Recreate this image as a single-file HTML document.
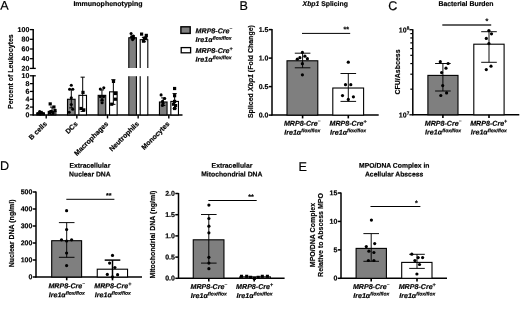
<!DOCTYPE html>
<html><head><meta charset="utf-8"><title>Figure</title>
<style>
html,body{margin:0;padding:0;background:#fff;}
body{width:520px;height:316px;overflow:hidden;font-family:"Liberation Sans",sans-serif;}
svg{display:block;will-change:transform;}
svg text{font-family:"Liberation Sans",sans-serif;fill:#000;stroke:#000;stroke-width:0.18px;}
</style></head><body>
<svg width="520" height="316" viewBox="0 0 520 316">
<rect x="0" y="0" width="520" height="316" fill="#fff"/>
<text x="0.30" y="9.70" transform="rotate(0.03 0.30 9.70)" font-size="12.6" text-anchor="start" font-weight="normal" font-style="normal" stroke-width="0.08">A</text>
<text x="239.60" y="10.00" transform="rotate(0.03 239.60 10.00)" font-size="12.6" text-anchor="start" font-weight="normal" font-style="normal" stroke-width="0.08">B</text>
<text x="388.20" y="10.10" transform="rotate(0.03 388.20 10.10)" font-size="12.6" text-anchor="start" font-weight="normal" font-style="normal" stroke-width="0.08">C</text>
<text x="0.00" y="170.00" transform="rotate(0.03 0.00 170.00)" font-size="12.6" text-anchor="start" font-weight="normal" font-style="normal" stroke-width="0.08">D</text>
<text x="298.50" y="171.00" transform="rotate(0.03 298.50 171.00)" font-size="12.6" text-anchor="start" font-weight="normal" font-style="normal" stroke-width="0.08">E</text>
<text x="108.00" y="6.00" transform="rotate(0.03 108.00 6.00)" font-size="7.0" text-anchor="middle" font-weight="bold" font-style="normal" >Immunophenotyping</text>
<text transform="translate(13.30,71.60) rotate(-90)" font-size="7.0" text-anchor="middle" font-weight="bold">Percent of Leukocytes</text>
<line x1="33.20" y1="29.10" x2="33.20" y2="68.90" stroke="#000" stroke-width="1.5"/>
<line x1="33.20" y1="75.30" x2="33.20" y2="115.40" stroke="#000" stroke-width="1.5"/>
<line x1="32.70" y1="114.90" x2="182.50" y2="114.90" stroke="#000" stroke-width="1.5"/>
<line x1="29.90" y1="29.60" x2="33.20" y2="29.60" stroke="#000" stroke-width="1.3"/>
<text x="29.30" y="31.90" transform="rotate(0.03 29.30 31.90)" font-size="7.0" text-anchor="end" font-weight="bold" font-style="normal" >100</text>
<line x1="29.90" y1="39.30" x2="33.20" y2="39.30" stroke="#000" stroke-width="1.3"/>
<text x="29.30" y="41.60" transform="rotate(0.03 29.30 41.60)" font-size="7.0" text-anchor="end" font-weight="bold" font-style="normal" >80</text>
<line x1="29.90" y1="49.00" x2="33.20" y2="49.00" stroke="#000" stroke-width="1.3"/>
<text x="29.30" y="51.30" transform="rotate(0.03 29.30 51.30)" font-size="7.0" text-anchor="end" font-weight="bold" font-style="normal" >60</text>
<line x1="29.90" y1="58.70" x2="33.20" y2="58.70" stroke="#000" stroke-width="1.3"/>
<text x="29.30" y="61.00" transform="rotate(0.03 29.30 61.00)" font-size="7.0" text-anchor="end" font-weight="bold" font-style="normal" >40</text>
<line x1="29.90" y1="68.40" x2="35.80" y2="68.40" stroke="#000" stroke-width="1.3"/>
<text x="29.30" y="70.70" transform="rotate(0.03 29.30 70.70)" font-size="7.0" text-anchor="end" font-weight="bold" font-style="normal" >20</text>
<line x1="29.90" y1="75.80" x2="35.80" y2="75.80" stroke="#000" stroke-width="1.3"/>
<text x="29.30" y="78.10" transform="rotate(0.03 29.30 78.10)" font-size="7.0" text-anchor="end" font-weight="bold" font-style="normal" >10</text>
<line x1="29.90" y1="83.62" x2="33.20" y2="83.62" stroke="#000" stroke-width="1.3"/>
<text x="29.30" y="85.92" transform="rotate(0.03 29.30 85.92)" font-size="7.0" text-anchor="end" font-weight="bold" font-style="normal" >8</text>
<line x1="29.90" y1="91.44" x2="33.20" y2="91.44" stroke="#000" stroke-width="1.3"/>
<text x="29.30" y="93.74" transform="rotate(0.03 29.30 93.74)" font-size="7.0" text-anchor="end" font-weight="bold" font-style="normal" >6</text>
<line x1="29.90" y1="99.26" x2="33.20" y2="99.26" stroke="#000" stroke-width="1.3"/>
<text x="29.30" y="101.56" transform="rotate(0.03 29.30 101.56)" font-size="7.0" text-anchor="end" font-weight="bold" font-style="normal" >4</text>
<line x1="29.90" y1="107.08" x2="33.20" y2="107.08" stroke="#000" stroke-width="1.3"/>
<text x="29.30" y="109.38" transform="rotate(0.03 29.30 109.38)" font-size="7.0" text-anchor="end" font-weight="bold" font-style="normal" >2</text>
<line x1="29.90" y1="114.90" x2="33.20" y2="114.90" stroke="#000" stroke-width="1.3"/>
<text x="29.30" y="117.20" transform="rotate(0.03 29.30 117.20)" font-size="7.0" text-anchor="end" font-weight="bold" font-style="normal" >0</text>
<line x1="46.20" y1="114.90" x2="46.20" y2="118.40" stroke="#000" stroke-width="1.4"/>
<rect x="36.85" y="112.95" width="7.60" height="1.95" fill="#7f7f7f" stroke="#000" stroke-width="1.1"/>
<line x1="40.65" y1="111.38" x2="40.65" y2="114.12" stroke="#000" stroke-width="1.0"/>
<line x1="38.55" y1="111.38" x2="42.75" y2="111.38" stroke="#000" stroke-width="1.0"/>
<line x1="38.55" y1="114.12" x2="42.75" y2="114.12" stroke="#000" stroke-width="1.0"/>
<rect x="48.25" y="111.38" width="7.60" height="3.52" fill="#fff" stroke="#000" stroke-width="1.1"/>
<line x1="52.05" y1="107.08" x2="52.05" y2="114.51" stroke="#000" stroke-width="1.0"/>
<line x1="49.95" y1="107.08" x2="54.15" y2="107.08" stroke="#000" stroke-width="1.0"/>
<line x1="49.95" y1="114.51" x2="54.15" y2="114.51" stroke="#000" stroke-width="1.0"/>
<text transform="translate(47.50,124.30) rotate(-45)" font-size="7.0" text-anchor="end" font-weight="bold">B cells</text>
<line x1="76.85" y1="114.90" x2="76.85" y2="118.40" stroke="#000" stroke-width="1.4"/>
<rect x="67.50" y="99.26" width="7.60" height="15.64" fill="#7f7f7f" stroke="#000" stroke-width="1.1"/>
<line x1="71.30" y1="89.29" x2="71.30" y2="107.86" stroke="#000" stroke-width="1.0"/>
<line x1="69.20" y1="89.29" x2="73.40" y2="89.29" stroke="#000" stroke-width="1.0"/>
<line x1="69.20" y1="107.86" x2="73.40" y2="107.86" stroke="#000" stroke-width="1.0"/>
<rect x="78.90" y="95.35" width="7.60" height="19.55" fill="#fff" stroke="#000" stroke-width="1.1"/>
<line x1="82.70" y1="77.17" x2="82.70" y2="111.38" stroke="#000" stroke-width="1.0"/>
<line x1="80.60" y1="77.17" x2="84.80" y2="77.17" stroke="#000" stroke-width="1.0"/>
<line x1="80.60" y1="111.38" x2="84.80" y2="111.38" stroke="#000" stroke-width="1.0"/>
<text transform="translate(78.15,124.30) rotate(-45)" font-size="7.0" text-anchor="end" font-weight="bold">DCs</text>
<line x1="107.50" y1="114.90" x2="107.50" y2="118.40" stroke="#000" stroke-width="1.4"/>
<rect x="98.15" y="95.35" width="7.60" height="19.55" fill="#7f7f7f" stroke="#000" stroke-width="1.1"/>
<line x1="101.95" y1="89.88" x2="101.95" y2="100.82" stroke="#000" stroke-width="1.0"/>
<line x1="99.85" y1="89.88" x2="104.05" y2="89.88" stroke="#000" stroke-width="1.0"/>
<line x1="99.85" y1="100.82" x2="104.05" y2="100.82" stroke="#000" stroke-width="1.0"/>
<rect x="109.55" y="91.83" width="7.60" height="23.07" fill="#fff" stroke="#000" stroke-width="1.1"/>
<line x1="113.35" y1="79.71" x2="113.35" y2="104.34" stroke="#000" stroke-width="1.0"/>
<line x1="111.25" y1="79.71" x2="115.45" y2="79.71" stroke="#000" stroke-width="1.0"/>
<line x1="111.25" y1="104.34" x2="115.45" y2="104.34" stroke="#000" stroke-width="1.0"/>
<text transform="translate(108.80,124.30) rotate(-45)" font-size="7.0" text-anchor="end" font-weight="bold">Macrophages</text>
<line x1="138.15" y1="114.90" x2="138.15" y2="118.40" stroke="#000" stroke-width="1.4"/>
<rect x="128.80" y="37.75" width="7.60" height="32.65" fill="#7f7f7f" stroke="#000" stroke-width="1.1"/>
<rect x="127.20" y="68.0" width="10.80" height="5" fill="#fff"/>
<rect x="128.80" y="73.80" width="7.60" height="41.10" fill="#7f7f7f" stroke="#000" stroke-width="1.1"/>
<rect x="127.20" y="68.0" width="10.80" height="8.2" fill="#fff"/>
<line x1="132.60" y1="35.91" x2="132.60" y2="38.82" stroke="#000" stroke-width="1.0"/>
<line x1="130.50" y1="35.91" x2="134.70" y2="35.91" stroke="#000" stroke-width="1.0"/>
<line x1="130.50" y1="38.82" x2="134.70" y2="38.82" stroke="#000" stroke-width="1.0"/>
<rect x="140.20" y="39.69" width="7.60" height="30.71" fill="#fff" stroke="#000" stroke-width="1.1"/>
<rect x="138.60" y="68.0" width="10.80" height="5" fill="#fff"/>
<rect x="140.20" y="73.80" width="7.60" height="41.10" fill="#fff" stroke="#000" stroke-width="1.1"/>
<rect x="138.60" y="68.0" width="10.80" height="8.2" fill="#fff"/>
<line x1="144.00" y1="37.36" x2="144.00" y2="41.73" stroke="#000" stroke-width="1.0"/>
<line x1="141.90" y1="37.36" x2="146.10" y2="37.36" stroke="#000" stroke-width="1.0"/>
<line x1="141.90" y1="41.73" x2="146.10" y2="41.73" stroke="#000" stroke-width="1.0"/>
<text transform="translate(139.45,124.30) rotate(-45)" font-size="7.0" text-anchor="end" font-weight="bold">Neutrophils</text>
<line x1="168.80" y1="114.90" x2="168.80" y2="118.40" stroke="#000" stroke-width="1.4"/>
<rect x="159.45" y="102.00" width="7.60" height="12.90" fill="#7f7f7f" stroke="#000" stroke-width="1.1"/>
<line x1="163.25" y1="97.89" x2="163.25" y2="105.52" stroke="#000" stroke-width="1.0"/>
<line x1="161.15" y1="97.89" x2="165.35" y2="97.89" stroke="#000" stroke-width="1.0"/>
<line x1="161.15" y1="105.52" x2="165.35" y2="105.52" stroke="#000" stroke-width="1.0"/>
<rect x="170.85" y="101.41" width="7.60" height="13.49" fill="#fff" stroke="#000" stroke-width="1.1"/>
<line x1="174.65" y1="93.59" x2="174.65" y2="108.64" stroke="#000" stroke-width="1.0"/>
<line x1="172.55" y1="93.59" x2="176.75" y2="93.59" stroke="#000" stroke-width="1.0"/>
<line x1="172.55" y1="108.64" x2="176.75" y2="108.64" stroke="#000" stroke-width="1.0"/>
<text transform="translate(170.10,124.30) rotate(-45)" font-size="7.0" text-anchor="end" font-weight="bold">Monocytes</text>
<circle cx="38.00" cy="113.60" r="1.55" fill="#000"/>
<circle cx="39.70" cy="111.60" r="1.55" fill="#000"/>
<circle cx="41.60" cy="112.80" r="1.55" fill="#000"/>
<circle cx="43.40" cy="113.80" r="1.55" fill="#000"/>
<circle cx="40.20" cy="114.00" r="1.55" fill="#000"/>
<circle cx="71.30" cy="85.30" r="1.55" fill="#000"/>
<circle cx="69.60" cy="89.20" r="1.55" fill="#000"/>
<circle cx="72.80" cy="89.20" r="1.55" fill="#000"/>
<circle cx="71.30" cy="97.80" r="1.55" fill="#000"/>
<circle cx="71.30" cy="104.50" r="1.55" fill="#000"/>
<circle cx="72.70" cy="109.20" r="1.55" fill="#000"/>
<circle cx="69.20" cy="112.30" r="1.55" fill="#000"/>
<circle cx="100.30" cy="89.00" r="1.55" fill="#000"/>
<circle cx="103.80" cy="87.80" r="1.55" fill="#000"/>
<circle cx="100.20" cy="96.60" r="1.55" fill="#000"/>
<circle cx="103.60" cy="96.60" r="1.55" fill="#000"/>
<circle cx="102.10" cy="99.80" r="1.55" fill="#000"/>
<circle cx="102.10" cy="102.80" r="1.55" fill="#000"/>
<circle cx="131.10" cy="33.50" r="1.55" fill="#000"/>
<circle cx="133.40" cy="36.00" r="1.55" fill="#000"/>
<circle cx="133.90" cy="38.00" r="1.55" fill="#000"/>
<circle cx="131.60" cy="37.00" r="1.55" fill="#000"/>
<circle cx="132.60" cy="39.60" r="1.55" fill="#000"/>
<circle cx="161.10" cy="94.90" r="1.55" fill="#000"/>
<circle cx="164.70" cy="98.50" r="1.55" fill="#000"/>
<circle cx="162.50" cy="101.40" r="1.55" fill="#000"/>
<circle cx="163.10" cy="103.60" r="1.55" fill="#000"/>
<circle cx="162.40" cy="105.40" r="1.55" fill="#000"/>
<rect x="48.60" y="102.30" width="3.2" height="3.2" fill="#000"/>
<rect x="52.30" y="105.40" width="3.2" height="3.2" fill="#000"/>
<rect x="53.40" y="108.90" width="3.2" height="3.2" fill="#000"/>
<rect x="49.40" y="110.00" width="3.2" height="3.2" fill="#000"/>
<rect x="48.00" y="111.40" width="3.2" height="3.2" fill="#000"/>
<rect x="51.60" y="111.60" width="3.2" height="3.2" fill="#000"/>
<rect x="81.40" y="90.80" width="3.2" height="3.2" fill="#000"/>
<rect x="79.40" y="106.90" width="3.2" height="3.2" fill="#000"/>
<rect x="82.20" y="108.30" width="3.2" height="3.2" fill="#000"/>
<rect x="111.90" y="79.80" width="3.2" height="3.2" fill="#000"/>
<rect x="113.80" y="91.90" width="3.2" height="3.2" fill="#000"/>
<rect x="113.80" y="97.60" width="3.2" height="3.2" fill="#000"/>
<rect x="110.10" y="102.60" width="3.2" height="3.2" fill="#000"/>
<rect x="140.00" y="32.50" width="3.2" height="3.2" fill="#000"/>
<rect x="144.70" y="33.80" width="3.2" height="3.2" fill="#000"/>
<rect x="142.80" y="36.70" width="3.2" height="3.2" fill="#000"/>
<rect x="141.90" y="39.50" width="3.2" height="3.2" fill="#000"/>
<rect x="144.20" y="36.40" width="3.2" height="3.2" fill="#000"/>
<rect x="173.00" y="86.90" width="3.2" height="3.2" fill="#000"/>
<rect x="173.00" y="94.10" width="3.2" height="3.2" fill="#000"/>
<rect x="173.00" y="99.80" width="3.2" height="3.2" fill="#000"/>
<rect x="171.90" y="102.60" width="3.2" height="3.2" fill="#000"/>
<rect x="174.00" y="104.00" width="3.2" height="3.2" fill="#000"/>
<rect x="173.00" y="106.90" width="3.2" height="3.2" fill="#000"/>
<rect x="180.90" y="26.80" width="9.30" height="6.60" fill="#7f7f7f" stroke="#000" stroke-width="1.4"/>
<rect x="181.20" y="47.60" width="9.40" height="5.20" fill="#fff" stroke="#000" stroke-width="1.3"/>
<text x="195.60" y="33.20" transform="rotate(0.03 195.60 33.20)" font-size="7.1" text-anchor="start" font-weight="bold" font-style="italic">MRP8-Cre<tspan font-size="4.6" dy="-3.3">−</tspan></text>
<text x="195.60" y="42.10" transform="rotate(0.03 195.60 42.10)" font-size="7.1" text-anchor="start" font-weight="bold" font-style="italic">Ire1α<tspan font-size="4.95" dy="-2.4">flox/flox</tspan></text>
<text x="195.60" y="53.00" transform="rotate(0.03 195.60 53.00)" font-size="7.1" text-anchor="start" font-weight="bold" font-style="italic">MRP8-Cre<tspan font-size="5.3" dy="-2.6">+</tspan></text>
<text x="195.60" y="61.70" transform="rotate(0.03 195.60 61.70)" font-size="7.1" text-anchor="start" font-weight="bold" font-style="italic">Ire1α<tspan font-size="4.95" dy="-2.4">flox/flox</tspan></text>
<text x="325.2" y="6.0" transform="rotate(0.03 325.2 6.0)" font-size="6.85" text-anchor="middle" font-weight="bold"><tspan font-style="italic">Xbp1</tspan> Splicing</text>
<text transform="translate(253.4,71.6) rotate(-90)" font-size="7.0" text-anchor="middle" font-weight="bold">Spliced <tspan font-style="italic">Xbp1</tspan> (Fold Change)</text>
<line x1="272.00" y1="29.10" x2="272.00" y2="115.60" stroke="#000" stroke-width="1.5"/>
<line x1="271.50" y1="115.10" x2="378.70" y2="115.10" stroke="#000" stroke-width="1.5"/>
<line x1="268.80" y1="115.10" x2="272.00" y2="115.10" stroke="#000" stroke-width="1.5"/>
<text x="268.40" y="117.40" transform="rotate(0.03 268.40 117.40)" font-size="7.0" text-anchor="end" font-weight="bold" font-style="normal" >0.0</text>
<line x1="268.80" y1="86.60" x2="272.00" y2="86.60" stroke="#000" stroke-width="1.5"/>
<text x="268.40" y="88.90" transform="rotate(0.03 268.40 88.90)" font-size="7.0" text-anchor="end" font-weight="bold" font-style="normal" >0.5</text>
<line x1="268.80" y1="58.10" x2="272.00" y2="58.10" stroke="#000" stroke-width="1.5"/>
<text x="268.40" y="60.40" transform="rotate(0.03 268.40 60.40)" font-size="7.0" text-anchor="end" font-weight="bold" font-style="normal" >1.0</text>
<line x1="268.80" y1="29.60" x2="272.00" y2="29.60" stroke="#000" stroke-width="1.5"/>
<text x="268.40" y="31.90" transform="rotate(0.03 268.40 31.90)" font-size="7.0" text-anchor="end" font-weight="bold" font-style="normal" >1.5</text>
<rect x="287.00" y="60.78" width="30.80" height="54.32" fill="#7f7f7f" stroke="#000" stroke-width="1.1"/>
<rect x="332.80" y="88.02" width="30.80" height="27.08" fill="#fff" stroke="#000" stroke-width="1.1"/>
<line x1="302.60" y1="53.20" x2="302.60" y2="67.80" stroke="#000" stroke-width="0.95"/>
<line x1="294.80" y1="53.20" x2="310.40" y2="53.20" stroke="#000" stroke-width="0.95"/>
<line x1="294.80" y1="67.80" x2="310.40" y2="67.80" stroke="#000" stroke-width="0.95"/>
<line x1="348.30" y1="73.50" x2="348.30" y2="101.40" stroke="#000" stroke-width="0.95"/>
<line x1="340.50" y1="73.50" x2="356.10" y2="73.50" stroke="#000" stroke-width="0.95"/>
<line x1="340.50" y1="101.40" x2="356.10" y2="101.40" stroke="#000" stroke-width="0.95"/>
<line x1="302.60" y1="115.10" x2="302.60" y2="118.40" stroke="#000" stroke-width="1.6"/>
<line x1="348.30" y1="115.10" x2="348.30" y2="118.40" stroke="#000" stroke-width="1.6"/>
<circle cx="302.40" cy="52.40" r="1.6" fill="#000"/>
<circle cx="297.30" cy="59.20" r="1.6" fill="#000"/>
<circle cx="299.90" cy="57.70" r="1.6" fill="#000"/>
<circle cx="304.90" cy="56.20" r="1.6" fill="#000"/>
<circle cx="307.40" cy="58.70" r="1.6" fill="#000"/>
<circle cx="302.40" cy="63.70" r="1.6" fill="#000"/>
<circle cx="302.40" cy="74.80" r="1.6" fill="#000"/>
<circle cx="348.30" cy="62.20" r="1.6" fill="#000"/>
<circle cx="345.50" cy="84.70" r="1.6" fill="#000"/>
<circle cx="350.80" cy="84.70" r="1.6" fill="#000"/>
<circle cx="342.50" cy="95.60" r="1.6" fill="#000"/>
<circle cx="353.40" cy="96.80" r="1.6" fill="#000"/>
<circle cx="348.30" cy="99.40" r="1.6" fill="#000"/>
<line x1="302.00" y1="33.40" x2="350.20" y2="33.40" stroke="#000" stroke-width="1.0"/>
<text x="346.20" y="31.80" transform="rotate(0.03 346.20 31.80)" font-size="7.2" text-anchor="middle" font-weight="bold" font-style="normal" >**</text>
<text x="302.20" y="125.80" transform="rotate(0.03 302.20 125.80)" font-size="7.1" text-anchor="middle" font-weight="bold" font-style="italic">MRP8-Cre<tspan font-size="4.6" dy="-3.3">−</tspan></text>
<text x="302.20" y="134.70" transform="rotate(0.03 302.20 134.70)" font-size="7.1" text-anchor="middle" font-weight="bold" font-style="italic">Ire1α<tspan font-size="4.95" dy="-2.4">flox/flox</tspan></text>
<text x="348.00" y="125.80" transform="rotate(0.03 348.00 125.80)" font-size="7.1" text-anchor="middle" font-weight="bold" font-style="italic">MRP8-Cre<tspan font-size="5.3" dy="-2.6">+</tspan></text>
<text x="348.00" y="134.70" transform="rotate(0.03 348.00 134.70)" font-size="7.1" text-anchor="middle" font-weight="bold" font-style="italic">Ire1α<tspan font-size="4.95" dy="-2.4">flox/flox</tspan></text>
<text x="466.00" y="6.00" transform="rotate(0.03 466.00 6.00)" font-size="6.9" text-anchor="middle" font-weight="bold" font-style="normal" >Bacterial Burden</text>
<text transform="translate(400.00,72.00) rotate(-90)" font-size="7.0" text-anchor="middle" font-weight="bold">CFU/Asbcess</text>
<line x1="412.80" y1="29.20" x2="412.80" y2="115.30" stroke="#000" stroke-width="1.5"/>
<line x1="412.30" y1="114.80" x2="519.30" y2="114.80" stroke="#000" stroke-width="1.5"/>
<line x1="409.40" y1="114.80" x2="412.80" y2="114.80" stroke="#000" stroke-width="1.3"/>
<line x1="410.30" y1="89.18" x2="412.80" y2="89.18" stroke="#000" stroke-width="1.2"/>
<line x1="410.30" y1="74.20" x2="412.80" y2="74.20" stroke="#000" stroke-width="1.2"/>
<line x1="410.30" y1="63.56" x2="412.80" y2="63.56" stroke="#000" stroke-width="1.2"/>
<line x1="410.30" y1="55.32" x2="412.80" y2="55.32" stroke="#000" stroke-width="1.2"/>
<line x1="410.30" y1="48.58" x2="412.80" y2="48.58" stroke="#000" stroke-width="1.2"/>
<line x1="410.30" y1="42.88" x2="412.80" y2="42.88" stroke="#000" stroke-width="1.2"/>
<line x1="410.30" y1="37.95" x2="412.80" y2="37.95" stroke="#000" stroke-width="1.2"/>
<line x1="410.30" y1="33.59" x2="412.80" y2="33.59" stroke="#000" stroke-width="1.2"/>
<line x1="409.40" y1="29.70" x2="412.80" y2="29.70" stroke="#000" stroke-width="1.3"/>
<text x="409.20" y="117.60" transform="rotate(0.03 409.20 117.60)" font-size="7.0" text-anchor="end" font-weight="bold">10<tspan font-size="4.6" dy="-2.9">7</tspan></text>
<text x="409.20" y="32.50" transform="rotate(0.03 409.20 32.50)" font-size="7.0" text-anchor="end" font-weight="bold">10<tspan font-size="4.6" dy="-2.9">8</tspan></text>
<rect x="427.90" y="75.40" width="30.10" height="39.40" fill="#7f7f7f" stroke="#000" stroke-width="1.1"/>
<rect x="473.80" y="44.20" width="30.30" height="70.60" fill="#fff" stroke="#000" stroke-width="1.1"/>
<line x1="442.90" y1="63.50" x2="442.90" y2="91.00" stroke="#000" stroke-width="0.95"/>
<line x1="435.10" y1="63.50" x2="450.70" y2="63.50" stroke="#000" stroke-width="0.95"/>
<line x1="435.10" y1="91.00" x2="450.70" y2="91.00" stroke="#000" stroke-width="0.95"/>
<line x1="489.00" y1="31.70" x2="489.00" y2="62.30" stroke="#000" stroke-width="0.95"/>
<line x1="481.20" y1="31.70" x2="496.80" y2="31.70" stroke="#000" stroke-width="0.95"/>
<line x1="481.20" y1="62.30" x2="496.80" y2="62.30" stroke="#000" stroke-width="0.95"/>
<line x1="442.90" y1="114.80" x2="442.90" y2="118.10" stroke="#000" stroke-width="1.6"/>
<line x1="489.00" y1="114.80" x2="489.00" y2="118.10" stroke="#000" stroke-width="1.6"/>
<circle cx="440.30" cy="61.70" r="1.6" fill="#000"/>
<circle cx="448.10" cy="63.50" r="1.6" fill="#000"/>
<circle cx="446.00" cy="68.20" r="1.6" fill="#000"/>
<circle cx="441.60" cy="72.60" r="1.6" fill="#000"/>
<circle cx="442.70" cy="85.60" r="1.6" fill="#000"/>
<circle cx="446.60" cy="92.90" r="1.6" fill="#000"/>
<circle cx="440.80" cy="95.50" r="1.6" fill="#000"/>
<circle cx="488.90" cy="30.60" r="1.6" fill="#000"/>
<circle cx="491.50" cy="33.80" r="1.6" fill="#000"/>
<circle cx="486.30" cy="38.40" r="1.6" fill="#000"/>
<circle cx="488.90" cy="43.60" r="1.6" fill="#000"/>
<circle cx="491.00" cy="66.20" r="1.6" fill="#000"/>
<circle cx="486.30" cy="69.60" r="1.6" fill="#000"/>
<line x1="442.30" y1="25.00" x2="491.20" y2="25.00" stroke="#626262" stroke-width="1.8"/>
<text x="487.00" y="23.50" transform="rotate(0.03 487.00 23.50)" font-size="7.2" text-anchor="middle" font-weight="bold" font-style="normal" >*</text>
<text x="443.10" y="125.70" transform="rotate(0.03 443.10 125.70)" font-size="7.1" text-anchor="middle" font-weight="bold" font-style="italic">MRP8-Cre<tspan font-size="4.6" dy="-3.3">−</tspan></text>
<text x="443.10" y="134.60" transform="rotate(0.03 443.10 134.60)" font-size="7.1" text-anchor="middle" font-weight="bold" font-style="italic">Ire1α<tspan font-size="4.95" dy="-2.4">flox/flox</tspan></text>
<text x="488.70" y="125.70" transform="rotate(0.03 488.70 125.70)" font-size="7.1" text-anchor="middle" font-weight="bold" font-style="italic">MRP8-Cre<tspan font-size="5.3" dy="-2.6">+</tspan></text>
<text x="488.70" y="134.60" transform="rotate(0.03 488.70 134.60)" font-size="7.1" text-anchor="middle" font-weight="bold" font-style="italic">Ire1α<tspan font-size="4.95" dy="-2.4">flox/flox</tspan></text>
<text x="89.90" y="167.70" transform="rotate(0.03 89.90 167.70)" font-size="6.8" text-anchor="middle" font-weight="bold" font-style="normal" >Extracellular</text>
<text x="89.90" y="176.40" transform="rotate(0.03 89.90 176.40)" font-size="6.8" text-anchor="middle" font-weight="bold" font-style="normal" >Nuclear DNA</text>
<text transform="translate(13.80,233.30) rotate(-90)" font-size="7.0" text-anchor="middle" font-weight="bold">Nuclear DNA (ng/ml)</text>
<line x1="36.00" y1="191.50" x2="36.00" y2="277.50" stroke="#000" stroke-width="1.5"/>
<line x1="35.50" y1="277.00" x2="142.00" y2="277.00" stroke="#000" stroke-width="1.5"/>
<line x1="32.80" y1="277.00" x2="36.00" y2="277.00" stroke="#000" stroke-width="1.5"/>
<text x="32.40" y="279.30" transform="rotate(0.03 32.40 279.30)" font-size="7.0" text-anchor="end" font-weight="bold" font-style="normal" >0</text>
<line x1="32.80" y1="260.00" x2="36.00" y2="260.00" stroke="#000" stroke-width="1.5"/>
<text x="32.40" y="262.30" transform="rotate(0.03 32.40 262.30)" font-size="7.0" text-anchor="end" font-weight="bold" font-style="normal" >100</text>
<line x1="32.80" y1="243.00" x2="36.00" y2="243.00" stroke="#000" stroke-width="1.5"/>
<text x="32.40" y="245.30" transform="rotate(0.03 32.40 245.30)" font-size="7.0" text-anchor="end" font-weight="bold" font-style="normal" >200</text>
<line x1="32.80" y1="226.00" x2="36.00" y2="226.00" stroke="#000" stroke-width="1.5"/>
<text x="32.40" y="228.30" transform="rotate(0.03 32.40 228.30)" font-size="7.0" text-anchor="end" font-weight="bold" font-style="normal" >300</text>
<line x1="32.80" y1="209.00" x2="36.00" y2="209.00" stroke="#000" stroke-width="1.5"/>
<text x="32.40" y="211.30" transform="rotate(0.03 32.40 211.30)" font-size="7.0" text-anchor="end" font-weight="bold" font-style="normal" >400</text>
<line x1="32.80" y1="192.00" x2="36.00" y2="192.00" stroke="#000" stroke-width="1.5"/>
<text x="32.40" y="194.30" transform="rotate(0.03 32.40 194.30)" font-size="7.0" text-anchor="end" font-weight="bold" font-style="normal" >500</text>
<rect x="51.70" y="240.70" width="29.90" height="36.30" fill="#7f7f7f" stroke="#000" stroke-width="1.1"/>
<rect x="97.25" y="269.20" width="30.30" height="7.80" fill="#fff" stroke="#000" stroke-width="1.1"/>
<line x1="66.70" y1="222.60" x2="66.70" y2="257.30" stroke="#000" stroke-width="0.95"/>
<line x1="58.90" y1="222.60" x2="74.50" y2="222.60" stroke="#000" stroke-width="0.95"/>
<line x1="58.90" y1="257.30" x2="74.50" y2="257.30" stroke="#000" stroke-width="0.95"/>
<line x1="112.50" y1="260.10" x2="112.50" y2="277.00" stroke="#000" stroke-width="1.5"/>
<line x1="104.70" y1="260.10" x2="120.30" y2="260.10" stroke="#000" stroke-width="1.5"/>
<line x1="66.70" y1="277.00" x2="66.70" y2="280.30" stroke="#000" stroke-width="1.6"/>
<line x1="112.50" y1="277.00" x2="112.50" y2="280.30" stroke="#000" stroke-width="1.6"/>
<circle cx="66.60" cy="210.70" r="1.6" fill="#000"/>
<circle cx="66.60" cy="229.50" r="1.6" fill="#000"/>
<circle cx="61.50" cy="239.80" r="1.6" fill="#000"/>
<circle cx="66.60" cy="241.00" r="1.6" fill="#000"/>
<circle cx="71.60" cy="239.80" r="1.6" fill="#000"/>
<circle cx="66.60" cy="253.00" r="1.6" fill="#000"/>
<circle cx="66.60" cy="265.60" r="1.6" fill="#000"/>
<circle cx="112.50" cy="255.40" r="1.6" fill="#000"/>
<circle cx="109.60" cy="263.10" r="1.6" fill="#000"/>
<circle cx="114.90" cy="267.50" r="1.6" fill="#000"/>
<circle cx="107.30" cy="274.40" r="1.6" fill="#000"/>
<circle cx="117.60" cy="274.70" r="1.6" fill="#000"/>
<circle cx="112.50" cy="276.90" r="1.6" fill="#000"/>
<line x1="66.30" y1="199.30" x2="114.40" y2="199.30" stroke="#000" stroke-width="1.0"/>
<text x="108.80" y="198.00" transform="rotate(0.03 108.80 198.00)" font-size="7.2" text-anchor="middle" font-weight="bold" font-style="normal" >**</text>
<text x="66.70" y="288.30" transform="rotate(0.03 66.70 288.30)" font-size="7.1" text-anchor="middle" font-weight="bold" font-style="italic">MRP8-Cre<tspan font-size="4.6" dy="-3.3">−</tspan></text>
<text x="66.70" y="297.20" transform="rotate(0.03 66.70 297.20)" font-size="7.1" text-anchor="middle" font-weight="bold" font-style="italic">Ire1α<tspan font-size="4.95" dy="-2.4">flox/flox</tspan></text>
<text x="112.80" y="288.30" transform="rotate(0.03 112.80 288.30)" font-size="7.1" text-anchor="middle" font-weight="bold" font-style="italic">MRP8-Cre<tspan font-size="5.3" dy="-2.6">+</tspan></text>
<text x="112.80" y="297.20" transform="rotate(0.03 112.80 297.20)" font-size="7.1" text-anchor="middle" font-weight="bold" font-style="italic">Ire1α<tspan font-size="4.95" dy="-2.4">flox/flox</tspan></text>
<text x="232.00" y="167.70" transform="rotate(0.03 232.00 167.70)" font-size="6.8" text-anchor="middle" font-weight="bold" font-style="normal" >Extracellular</text>
<text x="231.80" y="176.40" transform="rotate(0.03 231.80 176.40)" font-size="6.8" text-anchor="middle" font-weight="bold" font-style="normal" >Mitochondrial DNA</text>
<text transform="translate(155.00,234.60) rotate(-90)" font-size="7.0" text-anchor="middle" font-weight="bold">Mitochondrial DNA (ng/ml)</text>
<line x1="178.50" y1="193.00" x2="178.50" y2="278.80" stroke="#000" stroke-width="1.5"/>
<line x1="178.00" y1="278.30" x2="284.60" y2="278.30" stroke="#000" stroke-width="1.5"/>
<line x1="175.30" y1="278.30" x2="178.50" y2="278.30" stroke="#000" stroke-width="1.5"/>
<text x="174.90" y="280.60" transform="rotate(0.03 174.90 280.60)" font-size="7.0" text-anchor="end" font-weight="bold" font-style="normal" >0.0</text>
<line x1="175.30" y1="257.10" x2="178.50" y2="257.10" stroke="#000" stroke-width="1.5"/>
<text x="174.90" y="259.40" transform="rotate(0.03 174.90 259.40)" font-size="7.0" text-anchor="end" font-weight="bold" font-style="normal" >0.5</text>
<line x1="175.30" y1="235.90" x2="178.50" y2="235.90" stroke="#000" stroke-width="1.5"/>
<text x="174.90" y="238.20" transform="rotate(0.03 174.90 238.20)" font-size="7.0" text-anchor="end" font-weight="bold" font-style="normal" >1.0</text>
<line x1="175.30" y1="214.70" x2="178.50" y2="214.70" stroke="#000" stroke-width="1.5"/>
<text x="174.90" y="217.00" transform="rotate(0.03 174.90 217.00)" font-size="7.0" text-anchor="end" font-weight="bold" font-style="normal" >1.5</text>
<line x1="175.30" y1="193.50" x2="178.50" y2="193.50" stroke="#000" stroke-width="1.5"/>
<text x="174.90" y="195.80" transform="rotate(0.03 174.90 195.80)" font-size="7.0" text-anchor="end" font-weight="bold" font-style="normal" >2.0</text>
<rect x="193.25" y="239.80" width="30.70" height="38.50" fill="#7f7f7f" stroke="#000" stroke-width="1.1"/>
<line x1="208.80" y1="214.50" x2="208.80" y2="263.10" stroke="#000" stroke-width="0.95"/>
<line x1="201.00" y1="214.50" x2="216.60" y2="214.50" stroke="#000" stroke-width="0.95"/>
<line x1="201.00" y1="263.10" x2="216.60" y2="263.10" stroke="#000" stroke-width="0.95"/>
<line x1="208.80" y1="278.30" x2="208.80" y2="281.60" stroke="#000" stroke-width="1.6"/>
<line x1="254.20" y1="278.30" x2="254.20" y2="281.60" stroke="#000" stroke-width="1.6"/>
<circle cx="208.90" cy="205.10" r="1.6" fill="#000"/>
<circle cx="208.90" cy="218.50" r="1.6" fill="#000"/>
<circle cx="208.90" cy="226.20" r="1.6" fill="#000"/>
<circle cx="208.90" cy="232.80" r="1.6" fill="#000"/>
<circle cx="208.90" cy="257.30" r="1.6" fill="#000"/>
<circle cx="208.90" cy="263.10" r="1.6" fill="#000"/>
<circle cx="208.90" cy="268.70" r="1.6" fill="#000"/>
<rect x="239.80" y="276.90" width="30.60" height="1.40" fill="#fff" stroke="#000" stroke-width="1.1"/>
<rect x="239.95" y="274.75" width="3.1" height="3.1" fill="#000"/>
<rect x="245.15" y="274.75" width="3.1" height="3.1" fill="#000"/>
<rect x="249.05" y="275.75" width="3.1" height="3.1" fill="#000"/>
<rect x="252.85" y="276.85" width="3.1" height="3.1" fill="#000"/>
<rect x="256.65" y="275.75" width="3.1" height="3.1" fill="#000"/>
<rect x="260.75" y="274.75" width="3.1" height="3.1" fill="#000"/>
<rect x="265.85" y="274.75" width="3.1" height="3.1" fill="#000"/>
<line x1="208.40" y1="200.50" x2="256.70" y2="200.50" stroke="#000" stroke-width="1.0"/>
<text x="251.00" y="199.30" transform="rotate(0.03 251.00 199.30)" font-size="7.2" text-anchor="middle" font-weight="bold" font-style="normal" >**</text>
<text x="208.80" y="289.00" transform="rotate(0.03 208.80 289.00)" font-size="7.1" text-anchor="middle" font-weight="bold" font-style="italic">MRP8-Cre<tspan font-size="4.6" dy="-3.3">−</tspan></text>
<text x="208.80" y="297.90" transform="rotate(0.03 208.80 297.90)" font-size="7.1" text-anchor="middle" font-weight="bold" font-style="italic">Ire1α<tspan font-size="4.95" dy="-2.4">flox/flox</tspan></text>
<text x="254.60" y="289.00" transform="rotate(0.03 254.60 289.00)" font-size="7.1" text-anchor="middle" font-weight="bold" font-style="italic">MRP8-Cre<tspan font-size="5.3" dy="-2.6">+</tspan></text>
<text x="254.60" y="297.90" transform="rotate(0.03 254.60 297.90)" font-size="7.1" text-anchor="middle" font-weight="bold" font-style="italic">Ire1α<tspan font-size="4.95" dy="-2.4">flox/flox</tspan></text>
<text x="394.30" y="167.70" transform="rotate(0.03 394.30 167.70)" font-size="6.8" text-anchor="middle" font-weight="bold" font-style="normal" >MPO/DNA Complex in</text>
<text x="394.10" y="176.40" transform="rotate(0.03 394.10 176.40)" font-size="6.8" text-anchor="middle" font-weight="bold" font-style="normal" >Acellular Abscess</text>
<text transform="translate(314.50,235.00) rotate(-90)" font-size="7.0" text-anchor="middle" font-weight="bold">MPO/DNA Complex</text>
<text transform="translate(322.90,235.00) rotate(-90)" font-size="7.0" text-anchor="middle" font-weight="bold">Relative to Abscess MPO</text>
<line x1="341.00" y1="192.50" x2="341.00" y2="278.80" stroke="#000" stroke-width="1.5"/>
<line x1="340.50" y1="278.30" x2="447.00" y2="278.30" stroke="#000" stroke-width="1.5"/>
<line x1="337.80" y1="278.30" x2="341.00" y2="278.30" stroke="#000" stroke-width="1.5"/>
<text x="337.40" y="280.60" transform="rotate(0.03 337.40 280.60)" font-size="7.0" text-anchor="end" font-weight="bold" font-style="normal" >0</text>
<line x1="337.80" y1="249.87" x2="341.00" y2="249.87" stroke="#000" stroke-width="1.5"/>
<text x="337.40" y="252.17" transform="rotate(0.03 337.40 252.17)" font-size="7.0" text-anchor="end" font-weight="bold" font-style="normal" >5</text>
<line x1="337.80" y1="221.43" x2="341.00" y2="221.43" stroke="#000" stroke-width="1.5"/>
<text x="337.40" y="223.73" transform="rotate(0.03 337.40 223.73)" font-size="7.0" text-anchor="end" font-weight="bold" font-style="normal" >10</text>
<line x1="337.80" y1="193.00" x2="341.00" y2="193.00" stroke="#000" stroke-width="1.5"/>
<text x="337.40" y="195.30" transform="rotate(0.03 337.40 195.30)" font-size="7.0" text-anchor="end" font-weight="bold" font-style="normal" >15</text>
<rect x="356.10" y="248.40" width="30.30" height="29.90" fill="#7f7f7f" stroke="#000" stroke-width="1.1"/>
<rect x="401.70" y="262.40" width="30.30" height="15.90" fill="#fff" stroke="#000" stroke-width="1.1"/>
<line x1="371.20" y1="233.60" x2="371.20" y2="261.30" stroke="#000" stroke-width="0.95"/>
<line x1="363.40" y1="233.60" x2="379.00" y2="233.60" stroke="#000" stroke-width="0.95"/>
<line x1="363.40" y1="261.30" x2="379.00" y2="261.30" stroke="#000" stroke-width="0.95"/>
<line x1="417.00" y1="254.30" x2="417.00" y2="268.40" stroke="#000" stroke-width="0.95"/>
<line x1="409.20" y1="254.30" x2="424.80" y2="254.30" stroke="#000" stroke-width="0.95"/>
<line x1="409.20" y1="268.40" x2="424.80" y2="268.40" stroke="#000" stroke-width="0.95"/>
<line x1="371.20" y1="278.30" x2="371.20" y2="281.60" stroke="#000" stroke-width="1.6"/>
<line x1="417.00" y1="278.30" x2="417.00" y2="281.60" stroke="#000" stroke-width="1.6"/>
<circle cx="371.40" cy="220.10" r="1.6" fill="#000"/>
<circle cx="366.30" cy="246.60" r="1.6" fill="#000"/>
<circle cx="374.70" cy="243.60" r="1.6" fill="#000"/>
<circle cx="368.90" cy="251.20" r="1.6" fill="#000"/>
<circle cx="373.90" cy="252.50" r="1.6" fill="#000"/>
<circle cx="368.40" cy="260.50" r="1.6" fill="#000"/>
<circle cx="373.90" cy="260.50" r="1.6" fill="#000"/>
<circle cx="411.80" cy="254.20" r="1.6" fill="#000"/>
<circle cx="418.20" cy="257.60" r="1.6" fill="#000"/>
<circle cx="422.60" cy="257.60" r="1.6" fill="#000"/>
<circle cx="414.90" cy="260.60" r="1.6" fill="#000"/>
<circle cx="419.50" cy="264.50" r="1.6" fill="#000"/>
<circle cx="416.90" cy="274.00" r="1.6" fill="#000"/>
<line x1="370.50" y1="206.50" x2="420.40" y2="206.50" stroke="#000" stroke-width="1.0"/>
<text x="416.30" y="205.60" transform="rotate(0.03 416.30 205.60)" font-size="7.2" text-anchor="middle" font-weight="bold" font-style="normal" >*</text>
<text x="371.20" y="289.00" transform="rotate(0.03 371.20 289.00)" font-size="7.1" text-anchor="middle" font-weight="bold" font-style="italic">MRP8-Cre<tspan font-size="4.6" dy="-3.3">−</tspan></text>
<text x="371.20" y="297.90" transform="rotate(0.03 371.20 297.90)" font-size="7.1" text-anchor="middle" font-weight="bold" font-style="italic">Ire1α<tspan font-size="4.95" dy="-2.4">flox/flox</tspan></text>
<text x="417.20" y="289.00" transform="rotate(0.03 417.20 289.00)" font-size="7.1" text-anchor="middle" font-weight="bold" font-style="italic">MRP8-Cre<tspan font-size="5.3" dy="-2.6">+</tspan></text>
<text x="417.20" y="297.90" transform="rotate(0.03 417.20 297.90)" font-size="7.1" text-anchor="middle" font-weight="bold" font-style="italic">Ire1α<tspan font-size="4.95" dy="-2.4">flox/flox</tspan></text>
</svg>
</body></html>
